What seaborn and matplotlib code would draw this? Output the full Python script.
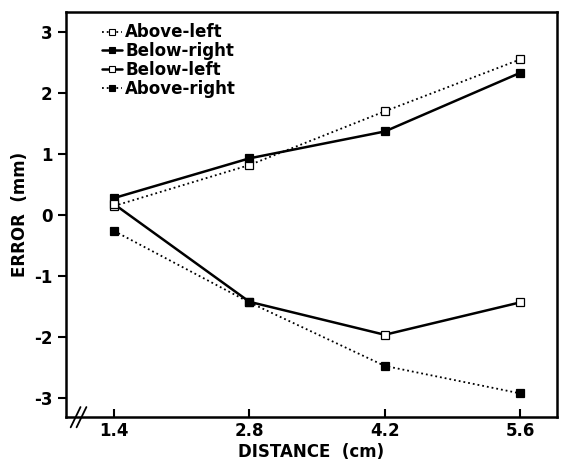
import matplotlib
matplotlib.use("Agg")
import matplotlib.pyplot as plt
import seaborn as sns
import pandas as pd
from matplotlib.lines import Line2D

distance = [1.4, 2.8, 4.2, 5.6]
above_left = [0.15, 0.82, 1.70, 2.55]
below_right = [0.28, 0.93, 1.37, 2.33]
below_left = [0.18, -1.42, -1.96, -1.43]
above_right = [-0.26, -1.43, -2.47, -2.92]
series_names = ["Above-left", "Below-right", "Below-left", "Above-right"]
x_ticks = [1.4, 2.8, 4.2, 5.6]
y_ticks = [-3, -2, -1, 0, 1, 2, 3]

sns.set_theme(style="ticks")
plt.rcParams['font.family'] = ['DejaVu Sans']
plt.rcParams['text.color'] = 'black'
plt.rcParams['axes.labelcolor'] = 'black'
plt.rcParams['xtick.color'] = 'black'
plt.rcParams['ytick.color'] = 'black'

values = [above_left, below_right, below_left, above_right]
df = pd.DataFrame({
    "distance": distance * 4,
    "error": sum(values, []),
    "series": sum([[n] * len(distance) for n in series_names], []),
})

styles = {
    "Above-left": dict(ls=":", filled=False),
    "Below-right": dict(ls="-", filled=True),
    "Below-left": dict(ls="-", filled=False),
    "Above-right": dict(ls=":", filled=True),
}

fig = plt.figure(figsize=(5.67, 4.73), dpi=100)
ax = fig.add_axes([0.116, 0.118, 0.866, 0.857])

handles = []
for name in series_names:
    st = styles[name]
    sub = df[df.series == name]
    lw = 1.3 if st["ls"] == ":" else 1.8
    sns.lineplot(data=sub, x="distance", y="error", ax=ax, color="black",
                 linestyle=st["ls"], linewidth=lw, marker="s", markersize=6,
                 markerfacecolor="black" if st["filled"] else "white",
                 markeredgecolor="black", markeredgewidth=0.9, legend=False)
    handles.append(Line2D([], [], color="black", linestyle=st["ls"], linewidth=lw,
                          marker="s", markersize=5,
                          markerfacecolor="black" if st["filled"] else "white",
                          markeredgecolor="black", markeredgewidth=0.8))

ax.set_xlim(0.9, 5.98)
ax.set_ylim(-3.31, 3.33)
ax.set_xticks(x_ticks)
ax.set_xticklabels([f"{v:.1f}" for v in x_ticks], fontsize=12, fontweight="bold")
ax.set_yticks(y_ticks)
ax.set_yticklabels([str(v) for v in y_ticks], fontsize=12, fontweight="bold")
ax.tick_params(axis="x", direction="in", length=6, width=1.5, colors="black")
ax.tick_params(axis="y", direction="out", length=6, width=1.5, colors="black")
for sp in ax.spines.values():
    sp.set_linewidth(1.8)
    sp.set_color("black")

ax.set_xlabel("DISTANCE  (cm)", fontsize=12, fontweight="bold", labelpad=2, color="black")
ax.set_ylabel("ERROR  (mm)", fontsize=12, fontweight="bold", labelpad=4, color="black")

# axis break mark
for dx in (0.0, 0.012):
    ax.plot([0.01 + dx, 0.03 + dx], [-0.025, 0.025], transform=ax.transAxes,
            color="black", lw=1.3, clip_on=False)

leg = ax.legend(handles, series_names, loc="upper left", frameon=False,
                bbox_to_anchor=(0.05, 1.0), handlelength=1.2, handletextpad=0.2,
                labelspacing=0.05, borderaxespad=0.3,
                prop={"size": 12, "weight": "bold"})
for t in leg.get_texts():
    t.set_color("black")

fig.savefig("out.png", dpi=100)
